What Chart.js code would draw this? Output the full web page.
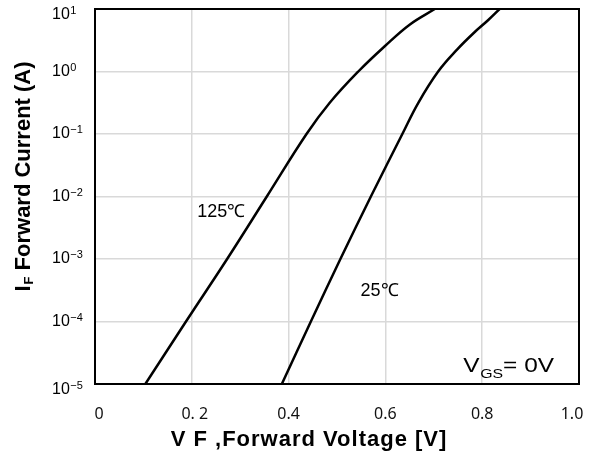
<!DOCTYPE html>
<html>
<head>
<meta charset="utf-8">
<script src="https://cdn.jsdelivr.net/npm/chart.js@4"></script>
<style>
  html, body { margin: 0; padding: 0; background: #fff; }
  #wrap { width: 600px; height: 456px; }
</style>
</head>
<body>
<div id="wrap"><canvas id="ivchart"></canvas></div>
<script>
// forward voltage (V) and current (A)
const v125 = [0.104, 0.188, 0.273, 0.355, 0.437, 0.485, 0.544, 0.598, 0.650, 0.702];
const i125 = [1e-5, 1e-4, 1e-3, 1e-2, 0.1, 0.316, 1, 2.51, 5.62, 10];
const v25 = [0.386, 0.446, 0.507, 0.570, 0.635, 0.668, 0.709, 0.748, 0.783, 0.812, 0.836];
const i25 = [1e-5, 1e-4, 1e-3, 1e-2, 0.1, 0.316, 1, 2.24, 4.17, 6.61, 10];

const xTicks = [0, 0.2, 0.4, 0.6, 0.8, 1.0];
const xTickLabels = ["0", "0. 2", "0.4", "0.6", "0.8", "1.0"];
const yTicks = [1e1, 1e0, 1e-1, 1e-2, 1e-3, 1e-4, 1e-5];
const yTickExp = ["1", "0", "\u22121", "\u22122", "\u22123", "\u22124", "\u22125"];

const toPts = (xs, ys) => xs.map((x, i) => ({ x: x, y: ys[i] }));
const SANS = '"Liberation Sans", Arial, sans-serif';

const extras = {
  id: 'extras',
  afterDatasetsDraw(chart) {
    const c = chart.ctx, a = chart.chartArea;
    const xs = chart.scales.x, ys = chart.scales.y;
    c.save();
    c.strokeStyle = '#000';
    c.lineWidth = 2;
    c.strokeRect(a.left, a.top, a.right - a.left, a.bottom - a.top);
    c.fillStyle = '#000';
    c.textBaseline = 'middle';

    // y tick labels 10^n
    yTicks.forEach((t, k) => {
      let y = ys.getPixelForValue(t);
      if (k === 0 || k === yTicks.length - 1) y += 6;
      c.textAlign = 'left';
      c.font = '16px ' + SANS;
      c.fillText('10', 52, y);
      const w = c.measureText('10').width;
      c.font = '11px ' + SANS;
      c.fillText(yTickExp[k], 52 + w + 0.5, y - 4);
    });

    // x tick labels
    c.font = '16px "Noto Sans", sans-serif';
    c.fillStyle = '#111';
    c.textAlign = 'center';
    xTicks.forEach((t, k) => {
      let x = xs.getPixelForValue(t);
      if (k === 0) x += 4;
      if (k === xTicks.length - 1) x -= 7;
      if (k === 1) x += 3;
      c.fillText(xTickLabels[k], x, 414);
    });
    c.fillStyle = '#000';

    // curve labels
    c.font = '18px ' + SANS;
    c.fillText('125\u2103', xs.getPixelForValue(0.261), ys.getPixelForValue(0.0057));
    c.fillText('25\u2103', xs.getPixelForValue(0.588), ys.getPixelForValue(3.1e-4));

    // V_GS = 0V (slightly wide lettering, as in the original)
    c.save();
    c.textAlign = 'left';
    c.textBaseline = 'alphabetic';
    c.translate(xs.getPixelForValue(0.761), ys.getPixelForValue(1.55e-5));
    c.scale(1.22, 1);
    c.font = '20px ' + SANS;
    c.fillText('V', 0, 0);
    let w = c.measureText('V').width;
    c.font = '13px ' + SANS;
    c.fillText('GS', w + 0.5, 6);
    w += c.measureText('GS').width + 0.5;
    c.font = '20px ' + SANS;
    c.fillText('= 0V', w, 0);
    c.restore();

    // axis titles
    c.textBaseline = 'middle';
    c.textAlign = 'center';
    c.font = 'bold 22px ' + SANS;
    c.letterSpacing = '1px';
    c.fillText('V F ,Forward Voltage [V]', 309, 440);
    c.letterSpacing = '0px';

    c.translate(24, 177);
    c.rotate(-Math.PI / 2);
    const big = 'bold 22px ' + SANS, sub = 'bold 13px ' + SANS;
    const t1 = 'I', t2 = 'F', t3 = ' Forward Current (A)';
    c.font = big; const w1 = c.measureText(t1).width, w3 = c.measureText(t3).width;
    c.font = sub; const w2 = c.measureText(t2).width;
    const sx = -(w1 + w2 + w3) / 2;
    c.textAlign = 'left';
    c.font = big; c.fillText(t1, sx, 0);
    c.font = sub; c.fillText(t2, sx + w1 + 1, 5);
    c.font = big; c.fillText(t3, sx + w1 + w2 + 1, 0);
    c.restore();
  }
};

new Chart(document.getElementById('ivchart'), {
  type: 'scatter',
  data: {
    datasets: [
      {
        label: '125\u2103',
        data: toPts(v125, i125),
        showLine: true,
        borderColor: '#000',
        borderWidth: 2.5,
        pointRadius: 0,
        tension: 0.4
      },
      {
        label: '25\u2103',
        data: toPts(v25, i25),
        showLine: true,
        borderColor: '#000',
        borderWidth: 2.5,
        pointRadius: 0,
        tension: 0.4
      }
    ]
  },
  options: {
    responsive: true,
    maintainAspectRatio: false,
    animation: false,
    layout: { padding: { top: 9, right: 21, left: 0, bottom: 0 } },
    plugins: { legend: { display: false }, tooltip: { enabled: false } },
    scales: {
      x: {
        type: 'linear',
        min: 0, max: 1.0,
        afterBuildTicks: (s) => { s.ticks = xTicks.map(v => ({ value: v })); },
        afterFit: (s) => { s.height = 72; },
        grid: { color: '#d9d9d9', lineWidth: 1.5, drawTicks: false },
        border: { display: false },
        ticks: { display: false }
      },
      y: {
        type: 'logarithmic',
        min: 1e-5, max: 10,
        afterBuildTicks: (s) => { s.ticks = yTicks.map(v => ({ value: v })); },
        afterFit: (s) => { s.width = 95; },
        grid: { color: '#d9d9d9', lineWidth: 1.5, drawTicks: false },
        border: { display: false },
        ticks: { display: false }
      }
    }
  },
  plugins: [extras]
});
</script>
</body>
</html>
